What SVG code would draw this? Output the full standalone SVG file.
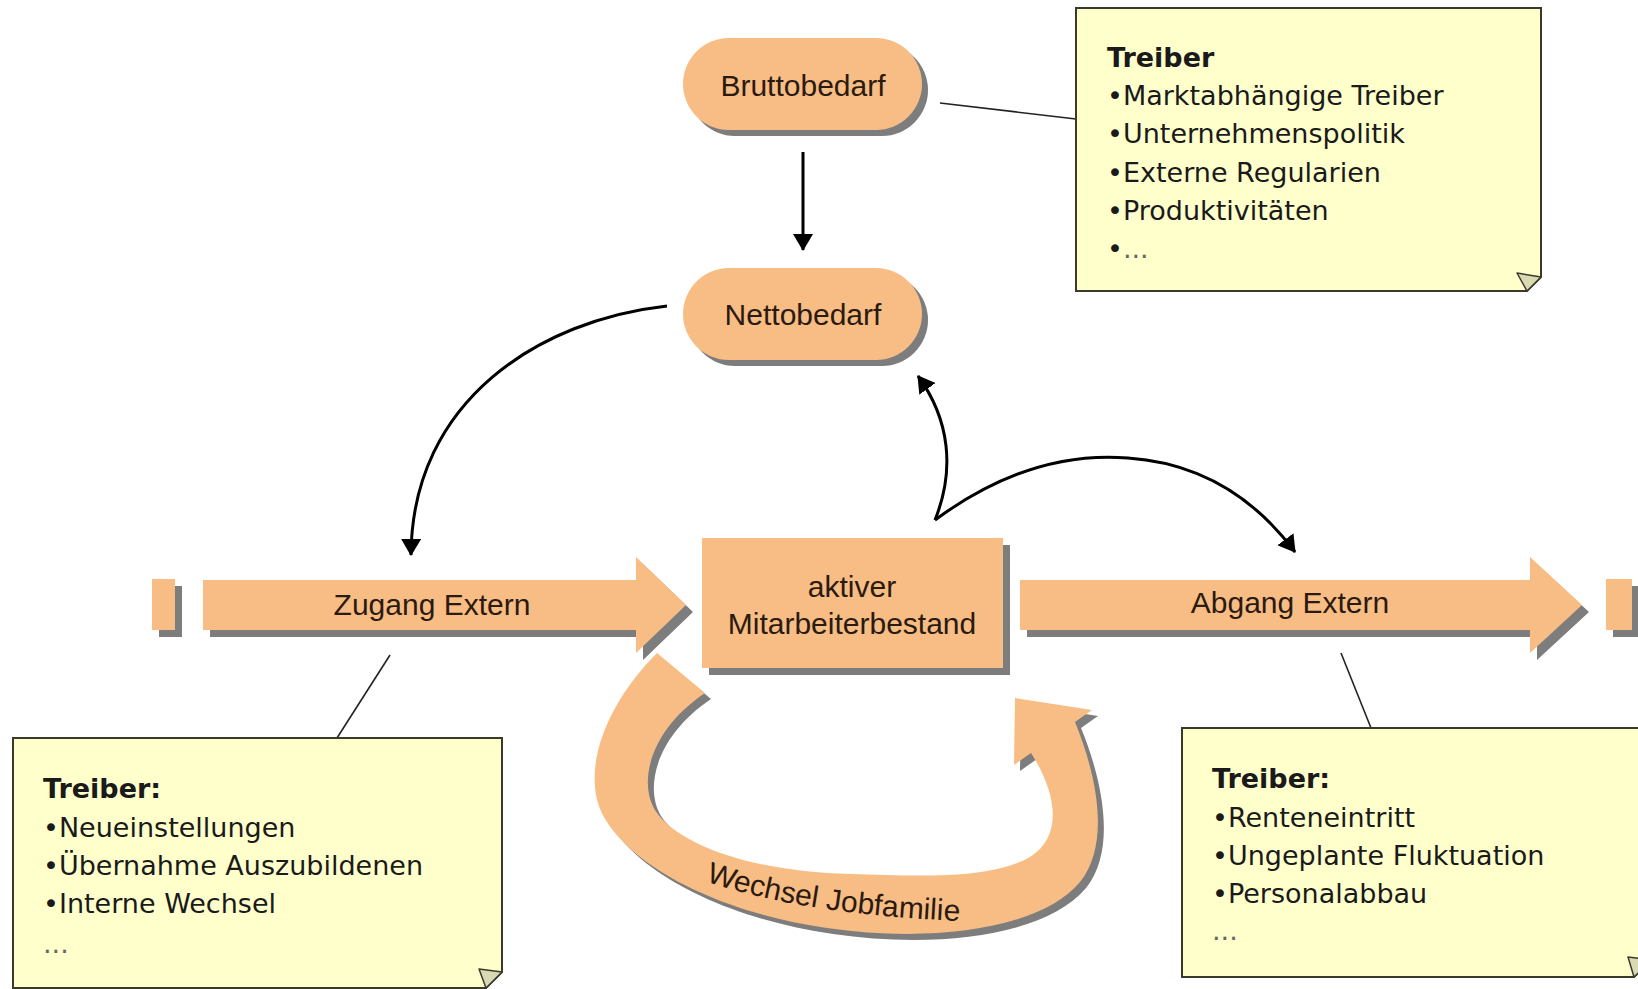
<svg xmlns="http://www.w3.org/2000/svg" width="1638" height="989" viewBox="0 0 1638 989">
<style>
.fl{fill:#F8BD84}
.sh{fill:#7d7d7d}
.lbl{font-family:"Liberation Sans",Arial,sans-serif;font-size:30px;fill:#2a1a10;text-anchor:middle}
.note{fill:#FFFFCC;stroke:#3a3a2a;stroke-width:2}
.fold{fill:#d9d9b3;stroke:#3a3a2a;stroke-width:1.5;stroke-linejoin:round}
.nt{font-family:"DejaVu Sans",Verdana,sans-serif;font-size:27px;fill:#1a1a1a}
.nb{font-weight:bold}
.dots{fill:#666}
.conn{fill:none;stroke:#000;stroke-width:3}
.lead{fill:none;stroke:#222;stroke-width:1.6}
</style>
<defs>
<marker id="ah" markerUnits="userSpaceOnUse" viewBox="0 0 17 20" markerWidth="17" markerHeight="20" refX="16" refY="10" orient="auto">
<path d="M0,0 L17,10 L0,20 Z" fill="#000"/>
</marker>
<path id="wpath" d="M702,880 Q810,918 995,922"/>
</defs>
<rect width="1638" height="989" fill="#fff"/>

<g id="connectors">
<line class="lead" x1="940" y1="103" x2="1076" y2="119"/>
<line class="lead" x1="390" y1="655" x2="337" y2="738"/>
<line class="lead" x1="1341" y1="653" x2="1371" y2="728"/>
<path class="conn" d="M803,152 V250" marker-end="url(#ah)"/>
<path class="conn" d="M667,306 C540,320 412,400 411,555" marker-end="url(#ah)"/>
<path class="conn" d="M935,520 C955,470 950,420 918,376" marker-end="url(#ah)"/>
<path class="conn" d="M935,520 Q1030,450 1128,458 Q1230,465 1295,552" marker-end="url(#ah)"/>
</g>

<g id="bruttobedarf">
<rect class="sh" x="689" y="44" width="239" height="92" rx="46"/>
<rect class="fl" x="683" y="38" width="239" height="92" rx="46"/>
<text class="lbl" x="803" y="96">Bruttobedarf</text>
</g>

<g id="nettobedarf">
<rect class="sh" x="689" y="274" width="239" height="92" rx="46"/>
<rect class="fl" x="683" y="268" width="239" height="92" rx="46"/>
<text class="lbl" x="803" y="325">Nettobedarf</text>
</g>

<g id="quelle">
<rect class="sh" x="159" y="586" width="23" height="51"/>
<rect class="fl" x="152" y="579" width="23" height="51"/>
</g>

<g id="zugang-extern">
<polygon class="sh" points="210,587 643,587 643,564 693,612 643,660 643,637 210,637"/>
<polygon class="fl" points="203,580 636,580 636,557 686,605 636,653 636,630 203,630"/>
<text class="lbl" x="432" y="615">Zugang Extern</text>
</g>

<g id="mitarbeiterbestand">
<rect class="sh" x="709" y="545" width="301" height="130"/>
<rect class="fl" x="702" y="538" width="301" height="130"/>
<text class="lbl" x="852" y="597">aktiver</text>
<text class="lbl" x="852" y="634">Mitarbeiterbestand</text>
</g>

<g id="abgang-extern">
<polygon class="sh" points="1027,587 1537,587 1537,564 1589,612 1537,660 1537,637 1027,637"/>
<polygon class="fl" points="1020,580 1530,580 1530,557 1582,605 1530,653 1530,630 1020,630"/>
<text class="lbl" x="1290" y="613">Abgang Extern</text>
</g>

<g id="senke">
<rect class="sh" x="1613" y="586" width="26" height="51"/>
<rect class="fl" x="1606" y="579" width="26" height="51"/>
</g>

<g id="wechsel-jobfamilie">
<path class="sh" transform="translate(6,6)" d="M657,653 C615,695 588,750 596,795 C605,850 700,910 827,928 C930,943 1040,930 1080,882 C1110,845 1098,778 1075,722 L1092,710 L1015,698 L1014,765 L1031,753 C1055,790 1065,835 1030,857 C990,880 920,876 850,874 C760,872 680,848 655,810 C638,782 650,730 705,693 Z"/>
<path class="fl" d="M657,653 C615,695 588,750 596,795 C605,850 700,910 827,928 C930,943 1040,930 1080,882 C1110,845 1098,778 1075,722 L1092,710 L1015,698 L1014,765 L1031,753 C1055,790 1065,835 1030,857 C990,880 920,876 850,874 C760,872 680,848 655,810 C638,782 650,730 705,693 Z"/>
<text font-family="Liberation Sans, Arial, sans-serif" font-size="30" fill="#2a1a10"><textPath href="#wpath" startOffset="4">Wechsel Jobfamilie</textPath></text>
</g>

<g id="treiber-bedarf">
<path class="note" d="M1076,8 H1541 V277 L1527,291 H1076 Z"/>
<path class="fold" d="M1541,277 L1517,273 L1527,291 Z"/>
<text class="nt nb" x="1107" y="67">Treiber</text>
<text class="nt" x="1107" y="105">•Marktabhängige Treiber</text>
<text class="nt" x="1107" y="143">•Unternehmenspolitik</text>
<text class="nt" x="1107" y="182">•Externe Regularien</text>
<text class="nt" x="1107" y="220">•Produktivitäten</text>
<text class="nt" x="1107" y="258">•<tspan class="dots">...</tspan></text>
</g>

<g id="treiber-zugang">
<path class="note" d="M13,738 H502 V972 L486,988 H13 Z"/>
<path class="fold" d="M502,972 L479,969 L486,988 Z"/>
<text class="nt nb" x="43" y="798">Treiber:</text>
<text class="nt" x="43" y="837">•Neueinstellungen</text>
<text class="nt" x="43" y="875">•Übernahme Auszubildenen</text>
<text class="nt" x="43" y="913">•Interne Wechsel</text>
<text class="nt dots" x="43" y="953">...</text>
</g>

<g id="treiber-abgang">
<path class="note" d="M1182,728 H1652 V960 L1634,977 H1182 Z"/>
<path class="fold" d="M1652,960 L1628,957 L1634,977 Z"/>
<text class="nt nb" x="1212" y="788">Treiber:</text>
<text class="nt" x="1212" y="827">•Renteneintritt</text>
<text class="nt" x="1212" y="865">•Ungeplante Fluktuation</text>
<text class="nt" x="1212" y="903">•Personalabbau</text>
<text class="nt dots" x="1212" y="940">...</text>
</g>
</svg>
